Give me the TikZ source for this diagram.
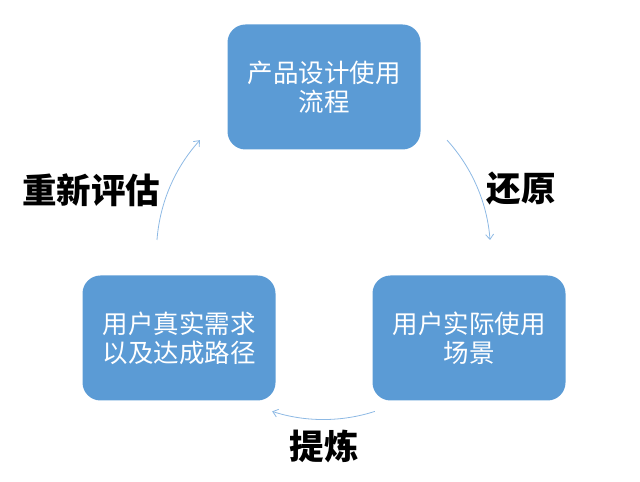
\documentclass[tikz,border=0pt]{standalone}
\usepackage{fontspec}
\setmainfont{Noto Sans CJK SC}
\newfontfamily\cjk{Noto Sans CJK SC}
\usetikzlibrary{arrows.meta}
\definecolor{boxblue}{HTML}{5B9BD5}
\definecolor{arcblue}{HTML}{8DB9E4}
\tikzset{
  stagebox/.style={fill=boxblue, draw=none, rounded corners=18pt, minimum width=193pt, minimum height=125pt, text=white, align=center, font=\cjk\fontsize{25.5}{29}\selectfont},
  flowarc/.style={draw=arcblue, line width=0.8pt, -{Straight Barb[length=5pt,width=8pt]}},
  steplabel/.style={font=\cjk\bfseries\fontsize{34.5}{38}\selectfont, text=black}
}
\begin{document}
\begin{tikzpicture}[x=1pt,y=1pt]
\useasboundingbox (0,0) rectangle (640,482);
\node[stagebox] (top) at (324,395) {产品设计使用\\流程};
\node[stagebox] (left) at (179,144) {用户真实需求\\以及达成路径};
\node[stagebox] (right) at (469,144) {用户实际使用\\场景};
\coordinate (c) at (323.5,229.5);
\draw[flowarc] (c) ++(175.7:167pt) coordinate (a1s) arc[start angle=175.7, end angle=137.7, radius=167pt];
\draw[flowarc] (c) ++(42.3:167pt) coordinate (a2s) arc[start angle=42.3, end angle=4.3, radius=167pt];
\draw[flowarc] (c) ++(-72.1:167pt) coordinate (a3s) arc[start angle=-72.1, end angle=-107.9, radius=167pt];
\node[steplabel] (l1) at (91,292) {重新评估};
\node[steplabel] (l2) at (521,293) {还原};
\node[steplabel] (l3) at (324,36) {提炼};
\end{tikzpicture}
\end{document}
